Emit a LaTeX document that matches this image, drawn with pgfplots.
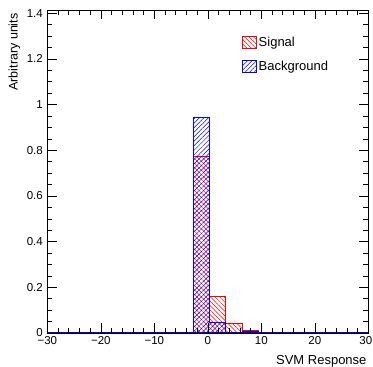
\documentclass[border=0pt]{standalone}
\usepackage{fontspec}
\setmainfont{Liberation Sans}
\usepackage{pgfplots}
\pgfplotsset{compat=1.18}
\usetikzlibrary{patterns.meta}
\begin{document}
\begin{tikzpicture}[x=1pt,y=1pt]
\useasboundingbox (0,0) rectangle (373,367);
\begin{axis}[
  at={(47.3pt,34pt)}, anchor=south west,
  scale only axis, width=321pt, height=323pt,
  xmin=-30, xmax=30, ymin=0, ymax=1.414,
  xtick={-30,-20,...,30},
  xticklabels={−30,−20,−10,0,10,20,\makebox[0pt][c]{\hspace{-5pt}30}},
  ytick={0,0.2,...,1.4},
  minor x tick num=4, minor y tick num=3,
  tick align=inside,
  major tick length=9.5pt, minor tick length=5pt,
  tick style={black, line width=0.5pt},
  axis line style={black, line width=0.6pt},
  /pgf/number format/assume math mode=true,
  tick label style={font=\fontsize{11.5}{12}\selectfont},
  xticklabel style={yshift=0pt},
  yticklabel style={xshift=-1pt},
  axis on top,
  clip=true,
  legend style={at={(0.597,0.93)}, anchor=north west, draw=none, fill=none,
    font=\fontsize{13}{14}\selectfont, row sep=9pt,
    /tikz/every even column/.append style={column sep=1pt}},
  legend cell align=left,
  legend image code/.code={\draw[#1,/tikz/.cd,line width=0.6pt] (0pt,-6pt) rectangle (14pt,6pt);},
]
% signal
\addplot[const plot, draw=red, line width=0.8pt,
  pattern={Lines[angle=-45,distance=3.2pt,line width=0.5pt]}, pattern color=red]
  coordinates {
  (-2.75,0) (-2.75,0.775) (0.30,0.159) (3.35,0.042) (6.40,0.013) (9.45,0.004)
  (12.5,0.003) (15.55,0.002) (18.6,0)} \closedcycle;
\addlegendentry{Signal}
% background
\addplot[const plot, draw=blue, line width=0.8pt,
  pattern={Lines[angle=45,distance=3.2pt,line width=0.5pt]}, pattern color=blue]
  coordinates {
  (-2.75,0) (-2.75,0.944) (0.30,0.047) (3.35,0.004) (6.40,0.006) (9.45,0.001)
  (12.5,0) (15.55,0)} \closedcycle;
\addlegendentry{Background}
\addplot[blue, line width=0.8pt, forget plot] coordinates {(-30,0.001) (30,0.001)};
\end{axis}
\node[rotate=90, anchor=north east, font=\fontsize{12.5}{13}\selectfont] at (5,357) {Arbitrary units};
\node[anchor=east, font=\fontsize{13}{14}\selectfont] at (370,5.5) {SVM Response};
\end{tikzpicture}
\end{document}
